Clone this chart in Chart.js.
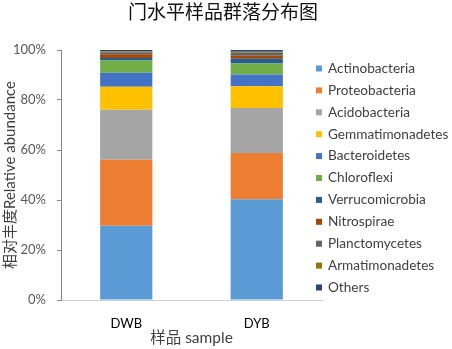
<!DOCTYPE html>
<html>
<head>
<meta charset="utf-8">
<script src="https://cdn.jsdelivr.net/npm/chart.js@4"></script>
<style>
  html, body { margin: 0; padding: 0; background: #fff; }
  #box { width: 452px; height: 349px; }
</style>
</head>
<body>
<div id="box"><canvas id="chart"></canvas></div>
<script>
// samples and phylum abundance (%)
const samples = ["DWB", "DYB"];
const phyla = ["Actinobacteria", "Proteobacteria", "Acidobacteria", "Gemmatimonadetes", "Bacteroidetes",
  "Chloroflexi", "Verrucomicrobia", "Nitrospirae", "Planctomycetes", "Armatimonadetes", "Others"];
const actinobacteria   = [29.7, 40.3];
const proteobacteria   = [26.4, 18.5];
const acidobacteria    = [20.0, 18.0];
const gemmatimonadetes = [9.2, 8.7];
const bacteroidetes    = [5.6, 4.7];
const chloroflexi      = [4.9, 4.4];
const verrucomicrobia  = [1.0, 1.9];
const nitrospirae      = [1.5, 1.2];
const planctomycetes   = [0.8, 1.2];
const armatimonadetes  = [0.4, 0.4];
const others           = [0.5, 0.7];
const yTicks = [0, 20, 40, 60, 80, 100];
const chartTitle = '门水平样品群落分布图';

const colors = ["#5B9BD5", "#ED7D31", "#A5A5A5", "#FFC000", "#4472C4",
  "#70AD47", "#255E91", "#9E480E", "#636363", "#997300", "#264478"];
const values = [actinobacteria, proteobacteria, acidobacteria, gemmatimonadetes, bacteroidetes,
  chloroflexi, verrucomicrobia, nitrospirae, planctomycetes, armatimonadetes, others];

const FONT = "Lato, 'Noto Sans CJK SC', sans-serif";

var datasets = [];
for (let i = 0; i < phyla.length; i++) {
  datasets.push({
    label: phyla[i],
    data: values[i],
    backgroundColor: colors[i],
    borderWidth: 0,
    barPercentage: 0.4,
    categoryPercentage: 1.0
  });
}

// title + legend drawn by hand, legend overlaps the plot edge like the original
const extras = {
  id: 'extras',
  afterDraw(chart) {
    const ctx = chart.ctx;
    ctx.save();
    ctx.font = "19px 'Noto Sans CJK SC', serif";
    ctx.fillStyle = '#111';
    ctx.textAlign = 'center';
    ctx.textBaseline = 'middle';
    ctx.fillText(chartTitle, 223, 12);

    ctx.font = "13.6px " + FONT;
    ctx.textAlign = 'left';
    chart.data.datasets.forEach((ds, i) => {
      const y = 68.5 + i * 21.9;
      ctx.fillStyle = ds.backgroundColor;
      ctx.fillRect(316, y - 3, 6, 6);
      ctx.fillStyle = '#404040';
      ctx.fillText(ds.label, 328, y);
    });
    ctx.restore();
  }
};

new Chart(document.getElementById('chart'), {
  type: 'bar',
  data: { labels: samples, datasets: datasets },
  plugins: [extras],
  options: {
    responsive: true,
    maintainAspectRatio: false,
    animation: false,
    layout: { padding: { left: 0, right: 130, top: 50, bottom: 0 } },
    plugins: {
      legend: { display: false },
      tooltip: { enabled: false },
      title: { display: false }
    },
    scales: {
      x: {
        stacked: true,
        grid: { display: false, drawTicks: false },
        border: { display: true, color: '#D0D0D0', width: 1 },
        ticks: { color: '#000', font: { family: FONT, size: 13 }, padding: 16 },
        title: {
          display: true, text: '样品 sample', color: '#404040',
          font: { family: FONT, size: 15.5 }, padding: { top: 0, bottom: 2 }
        },
        afterFit: (s) => { s.height = 49; }
      },
      y: {
        stacked: true,
        min: 0, max: 100,
        afterBuildTicks: (s) => { s.ticks = yTicks.map(v => ({ value: v })); },
        ticks: { color: '#595959', font: { family: FONT, size: 13 }, padding: 11,
                 callback: (v) => v + '%' },
        grid: { display: true, drawOnChartArea: false, drawTicks: true, tickLength: 4, color: '#868686' },
        border: { display: true, color: '#868686', width: 1 },
        title: {
          display: true, text: '相对丰度Relative abundance', color: '#404040',
          font: { family: FONT, size: 15 }, padding: { top: 1.5, bottom: 0 }
        },
        afterFit: (s) => { s.width = 61; }
      }
    }
  }
});
</script>
</body>
</html>
